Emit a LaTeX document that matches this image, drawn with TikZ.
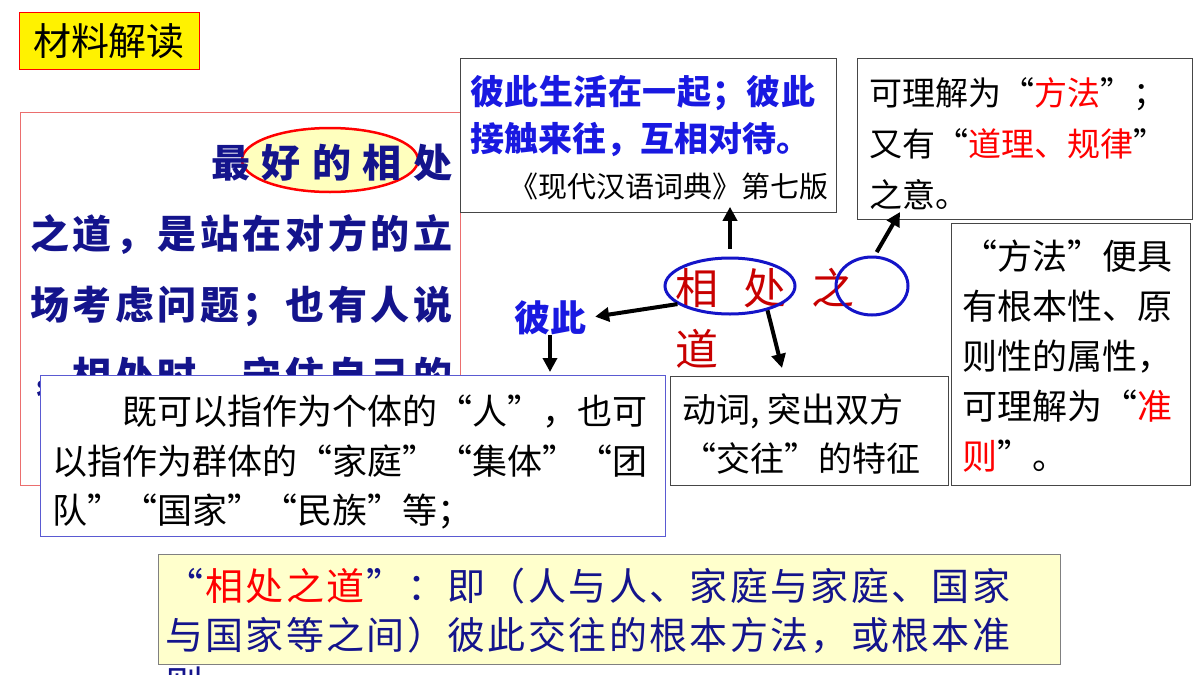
\documentclass[tikz,border=0pt]{standalone}
\usepackage{fontspec}
\usetikzlibrary{arrows.meta}
\usetikzlibrary{shapes.geometric}
\newfontfamily\cjk{Noto Sans CJK SC}
\definecolor{navy}{RGB}{20,20,140}
\definecolor{brightblue}{RGB}{25,25,225}
\definecolor{ringblue}{RGB}{20,20,200}
\definecolor{darkred}{RGB}{200,0,0}
\definecolor{paleyellow}{RGB}{255,255,204}
\definecolor{pastelyellow}{RGB}{255,255,190}
\definecolor{framegray}{RGB}{70,70,70}
\definecolor{boxblue}{RGB}{90,90,210}
\definecolor{boxred}{RGB}{235,110,110}
% stretch one line of characters to a given width: width, characters
\makeatletter
\newcommand{\spread}[2]{\hbox to #1{\spread@first#2\spread@end}}
\def\spread@first#1{{#1}\spread@next}
\def\spread@next#1{\ifx\spread@end#1\else\hfil{#1}\expandafter\spread@next\fi}
\def\spread@end{}
\makeatother

\begin{document}
\begin{tikzpicture}[x=1pt, y=-1pt,
  panel/.style={draw=framegray, fill=white, line width=0.8pt, inner sep=0pt, anchor=north west},
  txt/.style={inner sep=0pt, anchor=north west, align=left},
  ring/.style={ellipse, draw=ringblue, line width=3pt, inner sep=0pt},
  link/.style={-{Triangle[length=14pt,width=14pt]}, line width=4pt}]

\fill[white] (0,0) rectangle (1200,675);
\useasboundingbox (0,0) rectangle (1200,675);

% title
\node[draw=red, fill=yellow, line width=0.8pt, minimum width=180pt, minimum height=57pt,
  font=\cjk\fontsize{38pt}{38pt}\selectfont] (title) at (109,41) {材料解读};

% the quoted passage
\node[panel, draw=boxred, minimum width=440pt, minimum height=373pt] (story) at (20,112) {};
\node[ellipse, draw=red, fill=pastelyellow, line width=2.5pt, minimum width=176pt,
  minimum height=64pt] (hilite) at (330,160) {};
\node[txt, align=right, text=navy, font=\cjk\bfseries\fontsize{39pt}{71pt}\selectfont] (storyText) at (30,144)
  {\spread{241pt}{最好的相处}\\
   \spread{422pt}{之道，是站在对方的立}\\
   \spread{422pt}{场考虑问题；也有人说}\\
   \spread{422pt}{，相处时，守住自己的}};

% dictionary meaning
\node[panel, minimum width=376pt, minimum height=154pt] (dict) at (460,58) {};
\node[txt, text=brightblue, font=\cjk\bfseries\fontsize{34pt}{47pt}\selectfont] (dictText) at (470,75)
  {\spread{345pt}{彼此生活在一起；彼此}\\\spread{310pt}{接触来往，互相对待。}};
\node[txt, anchor=north east, font=\cjk\fontsize{29pt}{29pt}\selectfont] (dictSource) at (829,173)
  {《现代汉语词典》第七版};

% meaning of the last word
\node[panel, minimum width=335pt, minimum height=161pt] (meaning) at (857,58) {};
\node[txt, font=\cjk\fontsize{33pt}{51pt}\selectfont] (meaningText) at (869,77)
  {可理解为“\textcolor{red}{方法}”；\\又有“\textcolor{red}{道理、规律}”\\之意。};

\node[panel, minimum width=239pt, minimum height=262pt] (rule) at (951,223) {};
\node[txt, font=\cjk\fontsize{35pt}{50pt}\selectfont] (ruleText) at (962,240)
  {“方法”便具\\有根本性、原\\则性的属性，\\可理解为“\textcolor{red}{准}\\\textcolor{red}{则}”。};

% who and how
\node[panel, draw=boxblue, minimum width=625pt, minimum height=161pt] (person) at (40,375) {};
\node[txt, font=\cjk\fontsize{35pt}{49.5pt}\selectfont] (personText) at (52,395)
  {　　既可以指作为个体的“人”，也可\\以指作为群体的“家庭”“集体”“团\\队”“国家”“民族”等；};

\node[panel, minimum width=278pt, minimum height=109pt] (verb) at (670,376) {};
\node[txt, font=\cjk\fontsize{34pt}{49pt}\selectfont] (verbText) at (682,393)
  {动词, 突出双方\\“交往”的特征};

% summing up
\node[panel, draw=gray, fill=paleyellow, minimum width=902pt, minimum height=110pt] (way) at (158,554) {};
\node[txt, text=navy, font=\cjk\fontsize{38pt}{49pt}\selectfont] (wayText) at (165,568)
  {\spread{845pt}{“{\color{red}相}{\color{red}处}{\color{red}之}{\color{red}道}”：即（人与人、家庭与家庭、国家}\\
   \spread{845pt}{与国家等之间）彼此交往的根本方法，或根本准}\\
   则};

% the phrase taken apart
\node[inner sep=0pt, text=darkred, font=\cjk\fontsize{43pt}{43pt}\selectfont] (phrase) at (765,288)
  {相\hspace{25pt}处\hspace{25pt}之};
\node[inner sep=0pt, text=darkred, font=\cjk\fontsize{43pt}{43pt}\selectfont] (dao) at (697,349) {道};
\node[ring, minimum width=130pt, minimum height=56pt] (xc) at (730,286) {};
\node[ring, minimum width=72pt, minimum height=58pt] (fa) at (872,286) {};
\node[inner sep=0pt, text=brightblue, font=\cjk\bfseries\fontsize{36pt}{36pt}\selectfont] (bici) at (550,318) {彼此};

\coordinate (meaningTip) at (900,212);
\coordinate (verbTip) at (782,368);

\draw[link, shorten <=8pt, shorten >=-6pt] (xc.north) -- (xc.north |- dict.south);
\draw[link, shorten <=4pt] (fa.85) -- (meaningTip);
\draw[link, shorten >=9pt] (xc.199) -- (bici.east);
\draw[link] (xc.-33) -- (verbTip);
\draw[link, shorten >=3pt] (bici.south) -- (bici.south |- person.north);
\end{tikzpicture}
\end{document}
